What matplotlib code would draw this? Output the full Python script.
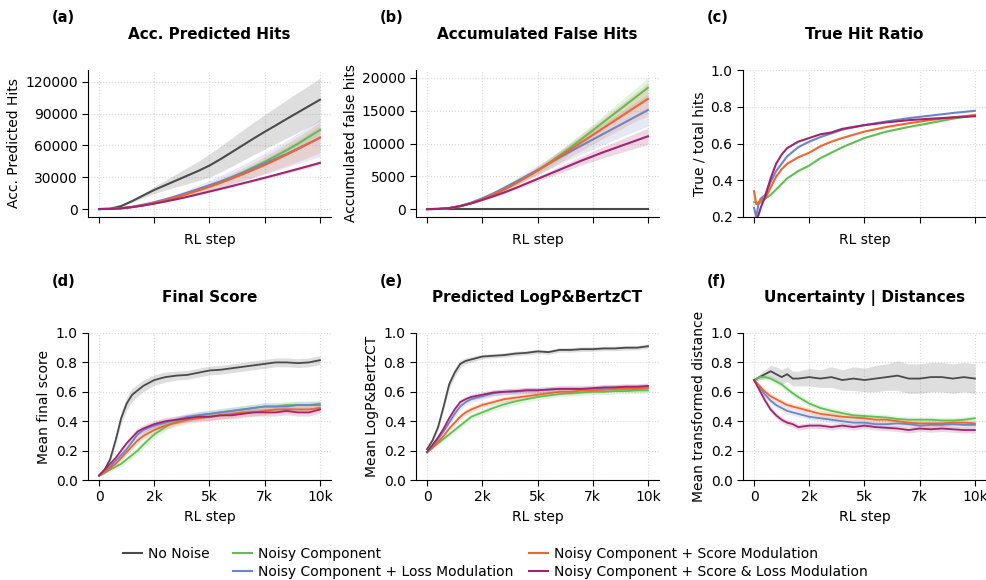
import numpy as np
import matplotlib.pyplot as plt

plt.rcParams.update({
    "font.family": "DejaVu Sans",
    "font.size": 10,
    "axes.labelsize": 10,
    "xtick.labelsize": 10,
    "ytick.labelsize": 10,
})

# colours per condition
C_NONE = "#4a4a4a"
C_NOISY = "#5fbf52"
C_LOSS = "#6b86c8"
C_SCORE = "#ef6430"
C_BOTH = "#a1246f"

LABELS = [
    "No Noise",
    "Noisy Component",
    "Noisy Component + Loss Modulation",
    "Noisy Component + Score Modulation",
    "Noisy Component + Score & Loss Modulation",
]

# ---- top row: cumulative counts, every 500 steps
steps = [0, 500, 1000, 1500, 2000, 2500, 3000, 3500, 4000, 4500, 5000,
         5500, 6000, 6500, 7000, 7500, 8000, 8500, 9000, 9500, 10000]

hits_none = [0, 300, 2800, 7500, 12800, 18000, 22500, 27000, 31500, 36000, 41000,
             47000, 53500, 60000, 66500, 72800, 78800, 85000, 91000, 97000, 103000]
hits_noisy = [0, 100, 600, 1800, 3500, 5500, 8000, 11000, 14500, 18000, 21500,
              25500, 30000, 34500, 39500, 44500, 50000, 55500, 61500, 68000, 74500]
hits_loss = [0, 100, 800, 2200, 4200, 6500, 9200, 12200, 15500, 19000, 22500,
             26000, 30000, 34000, 38500, 43000, 47500, 52000, 57000, 62000, 67000]
hits_score = [0, 100, 700, 1900, 3700, 5800, 8300, 11100, 14200, 17500, 21000,
              24700, 28600, 32700, 37000, 41500, 46300, 51300, 56500, 61800, 67500]
hits_both = [0, 100, 700, 1800, 3300, 5100, 7100, 9200, 11500, 14000, 16500,
             19000, 21600, 24200, 26800, 29500, 32200, 35000, 37800, 40600, 43500]

hits_none_sd = [0, 50, 400, 1200, 2200, 3400, 4700, 6100, 7600, 9200, 11000,
                12200, 13300, 14300, 15300, 16200, 17100, 18000, 18800, 19500, 20200]
hits_noisy_sd = [0, 10, 40, 100, 200, 300, 450, 600, 800, 1000, 1200,
                 1400, 1600, 1900, 2200, 2500, 2800, 3100, 3400, 3700, 4000]
hits_loss_sd = [0, 20, 100, 300, 600, 1000, 1500, 2100, 2800, 3600, 4500,
                5500, 6500, 7600, 8700, 9900, 11200, 12600, 14100, 15800, 17800]
hits_score_sd = [0, 20, 80, 250, 500, 850, 1250, 1700, 2200, 2800, 3500,
                 4200, 5000, 5900, 6900, 8000, 9100, 10300, 11600, 13000, 14500]
hits_both_sd = [0, 10, 40, 80, 130, 190, 260, 340, 430, 520, 620,
                720, 820, 920, 1020, 1120, 1220, 1320, 1420, 1520, 1600]

false_none = [0] * 21
false_noisy = [0, 30, 150, 450, 900, 1500, 2200, 3000, 3900, 4900, 5900,
               7000, 8200, 9400, 10700, 12000, 13300, 14600, 15900, 17200, 18500]
false_loss = [0, 30, 160, 500, 1000, 1650, 2400, 3250, 4150, 5050, 5950,
              6900, 7850, 8800, 9700, 10600, 11500, 12400, 13300, 14200, 15100]
false_score = [0, 30, 150, 450, 900, 1500, 2200, 3000, 3900, 4850, 5850,
               6900, 8000, 9100, 10200, 11300, 12400, 13500, 14600, 15700, 16800]
false_both = [0, 30, 150, 450, 880, 1400, 1950, 2550, 3200, 3900, 4600,
              5300, 6000, 6700, 7400, 8050, 8700, 9300, 9900, 10500, 11100]

false_none_sd = [0] * 21
false_noisy_sd = [0, 5, 20, 50, 90, 140, 200, 260, 330, 400, 480,
                  560, 650, 740, 840, 940, 1040, 1150, 1260, 1380, 1500]
false_loss_sd = [0, 5, 30, 70, 130, 200, 280, 370, 470, 580, 700,
                 830, 970, 1120, 1280, 1450, 1630, 1820, 2020, 2230, 2450]
false_score_sd = [0, 5, 25, 60, 110, 170, 250, 340, 440, 550, 670,
                  800, 940, 1090, 1250, 1420, 1600, 1790, 1990, 2200, 2450]
false_both_sd = [0, 5, 15, 40, 70, 100, 140, 190, 240, 300, 360,
                 430, 500, 580, 660, 750, 840, 940, 1040, 1150, 1260]

# true / total hit ratio (no false hits without noise -> not drawn)
ratio_steps = [0, 100, 200, 300, 400, 500, 750, 1000, 1250, 1500, 2000,
               2500, 3000, 3500, 4000, 5000, 6000, 7000, 8000, 9000, 10000]
ratio_noisy = [0.28, 0.28, 0.27, 0.28, 0.29, 0.30, 0.32, 0.35, 0.38, 0.41, 0.45,
               0.48, 0.52, 0.55, 0.58, 0.63, 0.665, 0.69, 0.712, 0.735, 0.753]
ratio_loss = [0.25, 0.20, 0.27, 0.30, 0.31, 0.32, 0.39, 0.45, 0.49, 0.53, 0.58,
              0.61, 0.635, 0.655, 0.675, 0.70, 0.72, 0.738, 0.752, 0.766, 0.778]
ratio_score = [0.34, 0.27, 0.28, 0.29, 0.30, 0.30, 0.36, 0.42, 0.46, 0.49, 0.525,
               0.55, 0.585, 0.61, 0.63, 0.665, 0.69, 0.71, 0.728, 0.742, 0.755]
ratio_both = [0.19, 0.19, 0.21, 0.25, 0.28, 0.31, 0.41, 0.49, 0.54, 0.575, 0.61,
              0.63, 0.65, 0.66, 0.68, 0.70, 0.715, 0.727, 0.735, 0.742, 0.748]

# ---- bottom row: per-step means
steps_b = [0, 250, 500, 750, 1000, 1250, 1500, 1750, 2000, 2500, 3000, 3500, 4000,
           4500, 5000, 5500, 6000, 6500, 7000, 7500, 8000, 8500, 9000, 9500, 10000]

score_none = [0.03, 0.07, 0.14, 0.27, 0.42, 0.52, 0.58, 0.61, 0.64, 0.68, 0.70, 0.71, 0.715,
              0.73, 0.745, 0.75, 0.76, 0.77, 0.78, 0.79, 0.80, 0.80, 0.795, 0.80, 0.815]
score_noisy = [0.03, 0.05, 0.07, 0.09, 0.11, 0.14, 0.17, 0.20, 0.24, 0.31, 0.36, 0.40, 0.42,
               0.44, 0.45, 0.46, 0.47, 0.48, 0.49, 0.50, 0.50, 0.51, 0.51, 0.51, 0.52]
score_loss = [0.03, 0.06, 0.09, 0.13, 0.17, 0.21, 0.26, 0.31, 0.34, 0.37, 0.39, 0.41, 0.43,
              0.44, 0.45, 0.46, 0.47, 0.48, 0.49, 0.50, 0.50, 0.50, 0.51, 0.51, 0.51]
score_score = [0.03, 0.05, 0.08, 0.11, 0.15, 0.19, 0.23, 0.27, 0.30, 0.34, 0.37, 0.39, 0.41,
               0.42, 0.43, 0.44, 0.45, 0.46, 0.46, 0.47, 0.48, 0.48, 0.48, 0.48, 0.49]
score_both = [0.03, 0.07, 0.11, 0.15, 0.20, 0.25, 0.29, 0.33, 0.35, 0.38, 0.40, 0.41, 0.42,
              0.43, 0.43, 0.44, 0.44, 0.45, 0.46, 0.46, 0.46, 0.47, 0.46, 0.46, 0.48]
score_none_sd = [0.005, 0.01, 0.02, 0.03, 0.04, 0.045, 0.045, 0.04, 0.04, 0.035, 0.035, 0.03, 0.03,
                 0.03, 0.03, 0.03, 0.03, 0.03, 0.03, 0.03, 0.03, 0.03, 0.03, 0.03, 0.03]
score_noisy_sd = [0.005, 0.008, 0.012, 0.015, 0.018, 0.02, 0.022, 0.024, 0.025, 0.025, 0.025, 0.025, 0.025,
                  0.025, 0.025, 0.025, 0.025, 0.025, 0.025, 0.025, 0.025, 0.025, 0.025, 0.025, 0.025]

logp_none = [0.21, 0.27, 0.36, 0.50, 0.65, 0.73, 0.79, 0.81, 0.82, 0.84, 0.845, 0.85, 0.86,
             0.865, 0.875, 0.87, 0.885, 0.885, 0.89, 0.89, 0.895, 0.895, 0.90, 0.90, 0.91]
logp_noisy = [0.19, 0.22, 0.25, 0.28, 0.31, 0.34, 0.37, 0.40, 0.43, 0.46, 0.49, 0.515, 0.535,
              0.55, 0.565, 0.575, 0.585, 0.59, 0.595, 0.60, 0.60, 0.605, 0.605, 0.61, 0.61]
logp_loss = [0.19, 0.23, 0.28, 0.33, 0.39, 0.45, 0.50, 0.53, 0.55, 0.57, 0.59, 0.60, 0.60,
             0.61, 0.61, 0.615, 0.62, 0.62, 0.62, 0.62, 0.625, 0.63, 0.63, 0.63, 0.635]
logp_score = [0.19, 0.22, 0.26, 0.30, 0.35, 0.39, 0.43, 0.46, 0.48, 0.51, 0.53, 0.55, 0.56,
              0.57, 0.58, 0.59, 0.60, 0.60, 0.61, 0.61, 0.615, 0.62, 0.62, 0.62, 0.625]
logp_both = [0.19, 0.24, 0.29, 0.35, 0.42, 0.48, 0.53, 0.55, 0.565, 0.58, 0.595, 0.60, 0.605,
             0.61, 0.61, 0.615, 0.62, 0.62, 0.62, 0.625, 0.63, 0.63, 0.635, 0.635, 0.64]
logp_none_sd = [0.005, 0.01, 0.02, 0.025, 0.03, 0.03, 0.025, 0.02, 0.02, 0.015, 0.015, 0.015, 0.015,
                0.015, 0.015, 0.015, 0.015, 0.015, 0.015, 0.015, 0.015, 0.015, 0.015, 0.015, 0.015]
logp_noisy_sd = [0.005, 0.008, 0.012, 0.015, 0.018, 0.02, 0.02, 0.02, 0.02, 0.02, 0.02, 0.02, 0.02,
                 0.02, 0.02, 0.02, 0.02, 0.02, 0.02, 0.02, 0.02, 0.02, 0.02, 0.02, 0.02]

dist_none = [0.68, 0.70, 0.72, 0.74, 0.72, 0.70, 0.72, 0.69, 0.69, 0.70, 0.69, 0.70, 0.68,
             0.69, 0.68, 0.69, 0.70, 0.71, 0.69, 0.69, 0.70, 0.70, 0.69, 0.70, 0.69]
dist_noisy = [0.68, 0.70, 0.70, 0.69, 0.67, 0.65, 0.62, 0.59, 0.565, 0.52, 0.49, 0.47, 0.455,
              0.44, 0.435, 0.43, 0.425, 0.415, 0.41, 0.41, 0.41, 0.405, 0.405, 0.41, 0.42]
dist_loss = [0.68, 0.63, 0.58, 0.54, 0.51, 0.49, 0.47, 0.46, 0.45, 0.43, 0.42, 0.41, 0.40,
             0.39, 0.39, 0.38, 0.38, 0.385, 0.38, 0.37, 0.375, 0.375, 0.38, 0.375, 0.375]
dist_score = [0.68, 0.64, 0.60, 0.57, 0.55, 0.53, 0.51, 0.50, 0.49, 0.47, 0.45, 0.44, 0.43,
              0.425, 0.42, 0.41, 0.41, 0.40, 0.39, 0.385, 0.385, 0.385, 0.39, 0.39, 0.385]
dist_both = [0.68, 0.61, 0.54, 0.48, 0.44, 0.41, 0.39, 0.38, 0.36, 0.37, 0.37, 0.36, 0.37,
             0.36, 0.37, 0.36, 0.355, 0.35, 0.34, 0.35, 0.345, 0.35, 0.345, 0.34, 0.34]
dist_none_sd = [0.01, 0.02, 0.03, 0.04, 0.05, 0.05, 0.05, 0.05, 0.05, 0.06, 0.06, 0.07, 0.07,
                0.08, 0.08, 0.09, 0.09, 0.10, 0.10, 0.10, 0.10, 0.10, 0.10, 0.10, 0.10]
dist_noisy_sd = [0.01, 0.015, 0.02, 0.02, 0.02, 0.02, 0.02, 0.02, 0.02, 0.02, 0.02, 0.02, 0.02,
                 0.02, 0.02, 0.02, 0.02, 0.02, 0.02, 0.02, 0.02, 0.02, 0.02, 0.02, 0.02]

COLORS = [C_NONE, C_NOISY, C_LOSS, C_SCORE, C_BOTH]

panels = [
    # (tag, title, ylabel, x, series, bands, ylim, yticks, has x labels)
    ("(a)", "Acc. Predicted Hits", "Acc. Predicted Hits", steps,
     [hits_none, hits_noisy, hits_loss, hits_score, hits_both],
     [hits_none_sd, hits_noisy_sd, hits_loss_sd, hits_score_sd, hits_both_sd],
     (-7500, 131000), [0, 30000, 60000, 90000, 120000], False),
    ("(b)", "Accumulated False Hits", "Accumulated false hits", steps,
     [false_none, false_noisy, false_loss, false_score, false_both],
     [false_none_sd, false_noisy_sd, false_loss_sd, false_score_sd, false_both_sd],
     (-1200, 21200), [0, 5000, 10000, 15000, 20000], False),
    ("(c)", "True Hit Ratio", "True / total hits", ratio_steps,
     [None, ratio_noisy, ratio_loss, ratio_score, ratio_both],
     None, (0.2, 1.0), [0.2, 0.4, 0.6, 0.8, 1.0], False),
    ("(d)", "Final Score", "Mean final score", steps_b,
     [score_none, score_noisy, score_loss, score_score, score_both],
     [score_none_sd] + [score_noisy_sd] * 4,
     (0, 1), [0, 0.2, 0.4, 0.6, 0.8, 1.0], True),
    ("(e)", "Predicted LogP&BertzCT", "Mean LogP&BertzCT", steps_b,
     [logp_none, logp_noisy, logp_loss, logp_score, logp_both],
     [logp_none_sd] + [logp_noisy_sd] * 4,
     (0, 1), [0, 0.2, 0.4, 0.6, 0.8, 1.0], True),
    ("(f)", "Uncertainty | Distances", "Mean transformed distance", steps_b,
     [dist_none, dist_noisy, dist_loss, dist_score, dist_both],
     [dist_none_sd] + [dist_noisy_sd] * 4,
     (0, 1), [0, 0.2, 0.4, 0.6, 0.8, 1.0], True),
]

W, H = 987, 580
fig = plt.figure(figsize=(W / 100, H / 100), dpi=100)

# axes boxes in pixels: left, top, width, height
lefts = [88, 416, 743]
tops = [70, 333]
AX_W, AX_H = 243, 147

xticks = [0, 2500, 5000, 7500, 10000]
xticklabels = ["0", "2k", "5k", "7k", "10k"]

handles = []
for i, (tag, title, ylabel, x, series, bands, ylim, yticks, show_x) in enumerate(panels):
    row, col = divmod(i, 3)
    l, t = lefts[col], tops[row]
    ax = fig.add_axes([l / W, 1 - (t + AX_H) / H, AX_W / W, AX_H / H])
    x = np.asarray(x)
    lw = 1.5 if row == 0 else 1.3
    for k, ys in enumerate(series):
        if ys is None:
            continue
        ys = np.asarray(ys, dtype=float)
        if bands is not None and any(bands[k]):
            sd = np.asarray(bands[k], dtype=float)
            ax.fill_between(x, ys - sd, ys + sd, color=COLORS[k],
                            alpha=0.18, linewidth=0, zorder=1)
        h, = ax.plot(x, ys, color=COLORS[k], lw=lw, zorder=3)
        if i == 0:
            handles.append(h)

    ax.set_xlim(-500, 10500)
    ax.set_ylim(*ylim)
    ax.set_yticks(yticks)
    if ylim[1] <= 1.5:
        ax.set_yticklabels([f"{v:.1f}" for v in yticks])
    ax.set_xticks(xticks)
    if show_x:
        ax.set_xticklabels(xticklabels)
    else:
        ax.set_xticklabels([])
    ax.set_xlabel("RL step", labelpad=4)
    ax.set_ylabel(ylabel, labelpad=3)
    ax.grid(True, linestyle=":", color="#d9d9d9", linewidth=0.8)
    ax.set_axisbelow(True)
    for s in ("top", "right"):
        ax.spines[s].set_visible(False)
    ax.tick_params(length=4)
    ax.set_title(title, fontsize=11, fontweight="bold", pad=22)
    fig.text((l - 36) / W, 1 - (t - 52) / H, tag, fontsize=10.5,
             fontweight="bold", va="center", ha="left")

# legend: blank slot keeps "No Noise" alone in the first column
blank, = plt.plot([], [], color="none")
leg_handles = [handles[0], blank, handles[1], handles[2], handles[3], handles[4]]
leg_labels = [LABELS[0], " " * 16, LABELS[1], LABELS[2], LABELS[3], LABELS[4]]
fig.legend(leg_handles, leg_labels, ncol=3, loc="center",
           bbox_to_anchor=(495 / W, 1 - 563 / H), frameon=False,
           handlelength=1.4, handletextpad=0.4, columnspacing=1.1,
           labelspacing=0.3, fontsize=10)

fig.savefig("out.png", dpi=100)
